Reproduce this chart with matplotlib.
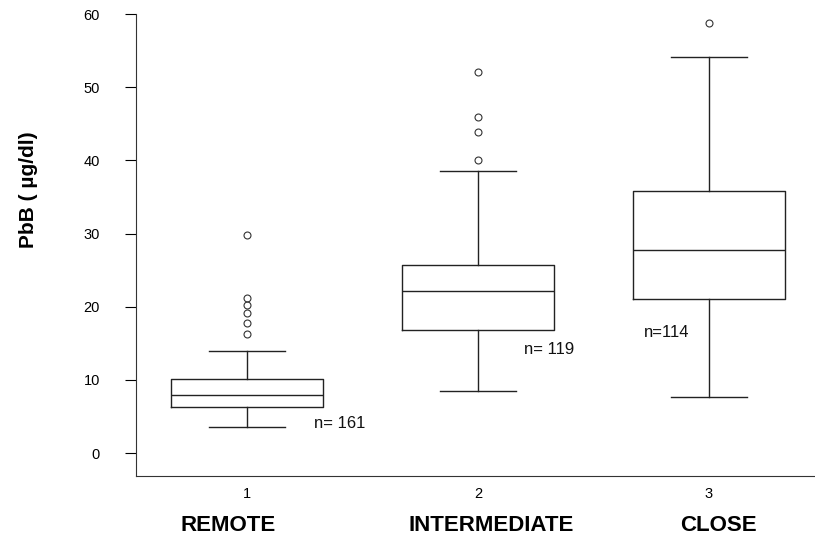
import matplotlib
matplotlib.use("Agg")
import matplotlib.pyplot as plt

plt.rcParams['font.family'] = ['Liberation Sans', 'DejaVu Sans']

# data
groups = ["REMOTE", "INTERMEDIATE", "CLOSE"]
positions = [1, 2, 3]
q1 = [6.3, 16.8, 21.0]
medians = [7.9, 22.1, 27.8]
q3 = [10.1, 25.7, 35.8]
whis_lo = [3.6, 8.5, 7.6]
whis_hi = [13.9, 38.5, 54.2]
fliers = [[16.3, 17.8, 19.1, 20.3, 21.2, 29.8],
          [40.0, 43.9, 46.0, 52.1],
          [58.8]]
n_labels = ["n= 161", "n= 119", "n=114"]
n_pos = [(1.29, 4.0), (2.2, 14.2), (2.72, 16.5)]

stats = []
for i in range(len(groups)):
    stats.append({
        "med": medians[i], "q1": q1[i], "q3": q3[i],
        "whislo": whis_lo[i], "whishi": whis_hi[i],
        "fliers": fliers[i], "label": str(positions[i]),
    })

fig = plt.figure(figsize=(8.15, 5.41), dpi=100)
ax = fig.add_axes([0.167, 0.120, 0.833, 0.854])

line = dict(color="#222222", linewidth=1.0)
ax.bxp(stats, positions=positions, widths=0.66,
       boxprops=line, whiskerprops=line, capprops=line,
       medianprops=line,
       flierprops=dict(marker="o", markersize=5, markerfacecolor="none",
                       markeredgecolor="#333333", markeredgewidth=0.8),
       capwidths=0.33)

for txt, (x, y) in zip(n_labels, n_pos):
    ax.text(x, y, txt, fontsize=12, va="center", ha="left", color="#111111")

ax.set_xlim(0.52, 3.46)
ax.set_ylim(-3.14, 60)
ax.set_yticks([0, 10, 20, 30, 40, 50, 60])
ax.tick_params(axis="y", direction="out", length=8, width=0.8, labelsize=10.5, pad=18)
ax.tick_params(axis="x", length=0, labelsize=10.5, pad=8)

ax.spines["top"].set_visible(False)
ax.spines["right"].set_visible(False)
ax.spines["left"].set_color("#333333")
ax.spines["bottom"].set_color("#333333")

ax.set_ylabel("PbB ( µg/dl)", fontsize=15, fontweight="bold")
ax.yaxis.set_label_coords(-0.145, 0.62)

group_x = [0.92, 2.056, 3.04]
for g, x in zip(groups, group_x):
    ax.text(x, -0.108, g, transform=ax.get_xaxis_transform(),
            ha="center", va="center", fontsize=16, fontweight="bold")

fig.savefig("out.png", dpi=100)
